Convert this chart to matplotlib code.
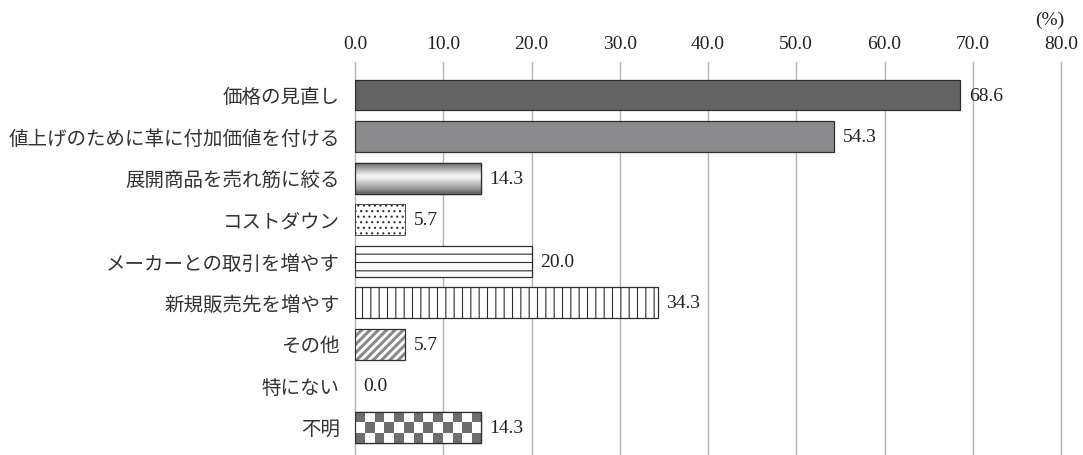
import numpy as np
import matplotlib
matplotlib.use("Agg")
import matplotlib.pyplot as plt
from matplotlib.colors import ListedColormap

categories = ["価格の見直し", "値上げのために革に付加価値を付ける", "展開商品を売れ筋に絞る",
              "コストダウン", "メーカーとの取引を増やす", "新規販売先を増やす",
              "その他", "特にない", "不明"]
values = [68.6, 54.3, 14.3, 5.7, 20.0, 34.3, 5.7, 0.0, 14.3]
xticks = [0, 10, 20, 30, 40, 50, 60, 70, 80]

plt.rcParams['font.family'] = ['Liberation Serif', 'Noto Sans CJK JP']
plt.rcParams['hatch.linewidth'] = 0.8

fig = plt.figure(figsize=(10.83, 4.56), dpi=100)
ax = fig.add_axes([0.3278, 0.0, 0.6519, 0.862])

edge = '#2f2f2f'
ypos = np.arange(len(values))
h = 0.74

bars = []
for i, v in enumerate(values):
    style = dict(facecolor='white', edgecolor=edge, linewidth=0.9, zorder=3)
    if v == 0:
        style['linewidth'] = 0
    if i == 0:
        style['facecolor'] = '#636363'
    elif i == 1:
        style['facecolor'] = '#8c8c8e'
    elif i == 3:
        style['hatch'] = '...'
        style['linewidth'] = 0.6
    elif i == 4:
        style['hatch'] = '--'
    elif i == 5:
        style['hatch'] = '||'
    if i == 6:
        # grey diagonal hatch, dark outline drawn on top
        plt.rcParams['hatch.linewidth'] = 2.2
        ax.barh(i, v, height=h, facecolor='white', edgecolor='#8a8a8a',
                hatch='////', linewidth=0, zorder=3)
        style['facecolor'] = 'none'
    b = ax.barh(i, v, height=h, **style)[0]
    bars.append(b)
    plt.rcParams['hatch.linewidth'] = 0.8

# gradient for bar 3
b = bars[2]
grad = np.array([0.47, 0.6, 0.72, 0.85, 0.95, 0.92, 0.82, 0.73, 0.65, 0.55, 0.42]).reshape(-1, 1)
ax.imshow(grad, cmap='gray', vmin=0, vmax=1, aspect='auto', interpolation='bilinear',
          extent=(b.get_x(), b.get_x() + b.get_width(), b.get_y() + b.get_height(), b.get_y()),
          zorder=3.5)
ax.barh(2, values[2], height=h, facecolor='none', edgecolor=edge, linewidth=0.9, zorder=4)

# checkerboard for last bar
b = bars[8]
checker = np.indices((3, 13)).sum(axis=0) % 2
ax.imshow(checker, cmap=ListedColormap(['#6e6e6e', 'white']), aspect='auto',
          interpolation='nearest',
          extent=(b.get_x(), b.get_x() + b.get_width(), b.get_y() + b.get_height(), b.get_y()),
          zorder=3.5)
ax.barh(8, values[8], height=h, facecolor='none', edgecolor=edge, linewidth=0.9, zorder=4)

for i, v in enumerate(values):
    ax.annotate(f"{v:.1f}", xy=(v, i), xytext=(6, 0), textcoords='offset points',
                ha='left', va='center', fontsize=14, color='#222222')

ax.set_xlim(0, 80)
ax.set_ylim(len(values) - 1 + 0.67, -0.8)
ax.set_yticks(ypos)
ax.set_yticklabels(categories, fontsize=14, color='#333333')
ax.set_xticks(xticks)
ax.set_xticklabels([f"{t:.1f}" for t in xticks], fontsize=14, color='#222222')
ax.xaxis.tick_top()
ax.tick_params(axis='x', length=0, pad=7)
ax.tick_params(axis='y', length=0, pad=11)
ax.grid(True, axis='x', color='#b4b4b4', linewidth=1.0, zorder=0)
for line in ax.get_xgridlines():
    line.set_clip_on(False)
ax.set_axisbelow(True)
for s in ax.spines.values():
    s.set_visible(False)

fig.text(0.969, 0.955, "(%)", ha='center', va='center', fontsize=14, color='#222222')

plt.savefig("out.png", dpi=100)
